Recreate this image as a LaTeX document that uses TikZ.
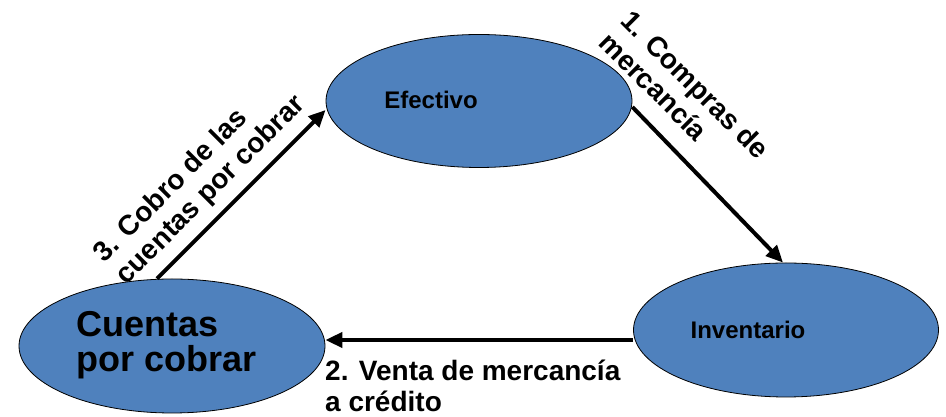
\documentclass[tikz,border=0pt]{standalone}
\usepackage{fontspec}
\setmainfont{Liberation Sans}
\usepackage{tikz}
\usetikzlibrary{arrows.meta}
\usetikzlibrary{shapes.geometric}
\definecolor{officeblue}{RGB}{79,129,189}

\begin{document}
\begin{tikzpicture}[line cap=round,line join=round,x=1pt,y=1pt,
  cuenta/.style={ellipse,draw=black,line width=0.8pt,fill=officeblue,inner sep=0pt},
  flujo/.style={line width=4pt,line cap=butt,-{Triangle[length=17pt,width=15pt]}},
  rotulo/.style={font=\fontsize{28}{31}\selectfont\bfseries,align=left,inner sep=0pt},
  nombre/.style={font=\fontsize{24}{26}\selectfont\bfseries,inner sep=0pt,anchor=base}]
\useasboundingbox (0,0) rectangle (946,417);
\node[rotulo,rotate=45,anchor=south west] (lcobro) at (131,127.4) {3. Cobro de las\\cuentas por cobrar};
\node[rotulo,rotate=-45,anchor=south west] (lcompra) at (597.2,372.2) {1. Compras de\\mercancía};
\node[rotulo,anchor=south west] (lventa) at (325,5.5) {2. Venta de mercancía\\a crédito};
\node[cuenta,minimum width=306pt,minimum height=133pt] (ef) at (479,316) {};
\node[cuenta,minimum width=305pt,minimum height=134pt] (inv) at (786,87) {};
\node[cuenta,minimum width=306pt,minimum height=134pt] (cxc) at (172,71) {};
\node[nombre] (tef) at (431,308) {Efectivo};
\node[nombre] (tinv) at (748,78) {Inventario};
\node[font=\fontsize{36}{35}\selectfont\bfseries,align=left,inner sep=0pt,anchor=south west] (tcxc) at (76,37.7) {Cuentas\\por cobrar};
\draw[flujo] ([yshift=-6pt]ef.east) -- ([xshift=-3pt]inv.north);
\draw[flujo] ([yshift=-10pt]inv.west) -- ([yshift=6pt]cxc.east);
\draw[flujo] ([xshift=-15pt]cxc.north) -- ([yshift=-9pt]ef.west);
\end{tikzpicture}
\end{document}
